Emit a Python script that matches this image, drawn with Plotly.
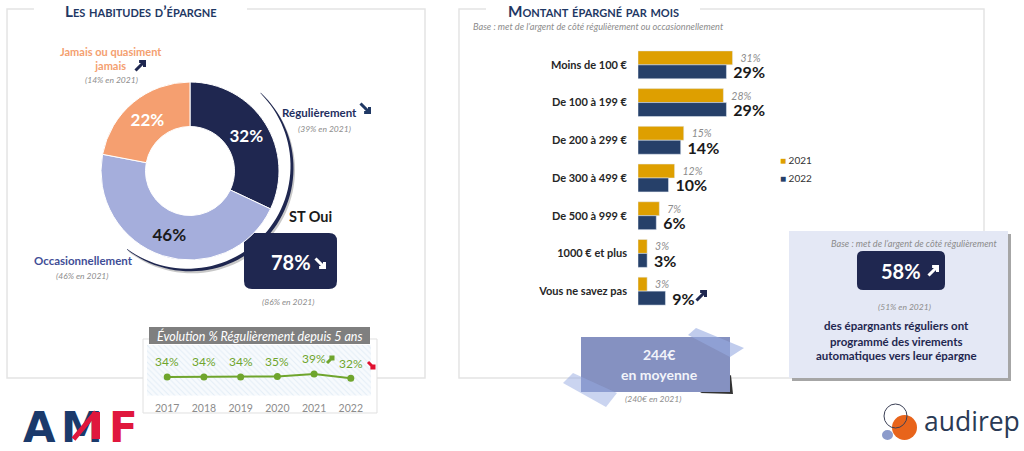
"""
Habitudes d'épargne : donut, barres du montant épargné et évolution sur 5 ans
"""

import numpy as np
import plotly.graph_objects as go

# Donut
habitudes = ['Régulièrement', 'Occasionnellement', 'Jamais ou quasiment jamais']
habitudes_vals = [32, 46, 22]

# Barres
montants = ['Moins de 100 €', 'De 100 à 199 €', 'De 200 à 299 €', 'De 300 à 499 €',
            'De 500 à 999 €', '1000 € et plus', 'Vous ne savez pas']
vals_2021 = [31, 28, 15, 12, 7, 3, 3]
vals_2022 = [29, 29, 14, 10, 6, 3, 9]

# Courbe
annees = [2017, 2018, 2019, 2020, 2021, 2022]
regulier = [34, 34, 34, 35, 39, 32]

W, H = 1024, 451
NAVY = '#1F2750'
BLEU = '#1F3864'
GRIS = '#8C8C8C'
VERT = '#6FA52D'
LATO = 'Lato'


def px(x):
    return x / W


def py(y):
    return 1 - y / H


def poly(points, close=True):
    path = 'M' + ' L'.join(f'{px(x):.5f},{py(y):.5f}' for x, y in points)
    return path + (' Z' if close else '')


def round_box(x0, y0, x1, y1, r):
    c = lambda x, y: f'{px(x):.5f},{py(y):.5f}'
    return (f'M{c(x0 + r, y0)} L{c(x1 - r, y0)} Q{c(x1, y0)} {c(x1, y0 + r)} '
            f'L{c(x1, y1 - r)} Q{c(x1, y1)} {c(x1 - r, y1)} '
            f'L{c(x0 + r, y1)} Q{c(x0, y1)} {c(x0, y1 - r)} '
            f'L{c(x0, y0 + r)} Q{c(x0, y0)} {c(x0 + r, y0)} Z')


shapes = []
annotations = []


def add_path(path, fill='rgba(0,0,0,0)', line=None, width=0):
    shapes.append(dict(type='path', path=path, xref='paper', yref='paper', layer='below',
                       fillcolor=fill, line=dict(color=line or 'rgba(0,0,0,0)', width=width)))


def add_circle(x0, y0, x1, y1, fill='rgba(0,0,0,0)', line=None, width=0):
    shapes.append(dict(type='circle', xref='paper', yref='paper', layer='below',
                       x0=px(x0), x1=px(x1), y0=py(y1), y1=py(y0), fillcolor=fill,
                       line=dict(color=line or 'rgba(0,0,0,0)', width=width)))


def note(x, y, text, size=11, color=BLEU, anchor='center', family=LATO):
    annotations.append(dict(x=px(x), y=py(y), xref='paper', yref='paper', text=text,
                            showarrow=False, xanchor=anchor, yanchor='middle', align='center',
                            borderpad=0, font=dict(size=size, color=color, family=family)))


def trait_logo(x, y, dx, dy, largeur, couleur):
    # trait par-dessus le texte du logo (les shapes passent sous les annotations)
    annotations.append(dict(x=px(x), y=py(y), xref='paper', yref='paper', text=' ', showarrow=True,
                            ax=dx, ay=dy, arrowhead=0, arrowwidth=largeur, arrowcolor=couleur,
                            standoff=0, startstandoff=0, font=dict(size=1)))


def fleche(x, y, s, color, bas=False, width=3):
    # petite flèche épaisse, vers le haut ou vers le bas à droite
    if bas:
        tige = [(x - s, y - s), (x + s, y + s)]
        tete = [(x + s, y - s * 0.2), (x + s, y + s), (x - s * 0.2, y + s)]
    else:
        tige = [(x - s, y + s), (x + s, y - s)]
        tete = [(x - s * 0.2, y - s), (x + s, y - s), (x + s, y + s * 0.2)]
    shapes.append(dict(type='path', path=poly(tige, False) + ' ' + poly(tete, False),
                       xref='paper', yref='paper', layer='above', fillcolor='rgba(0,0,0,0)',
                       line=dict(color=color, width=width)))


# Cadres
CADRE = '#E4E4E4'
add_path(poly([(34, 9), (7, 9), (7, 378), (425, 378), (425, 9), (247, 9)], False), line=CADRE, width=1.5)
add_path(poly([(486, 9), (459, 9), (459, 378), (800, 378)], False), line=CADRE, width=1.5)
add_path(poly([(700, 9), (984, 9), (984, 240)], False), line=CADRE, width=1.5)

# Arc autour du donut (ombre puis trait)
angles = np.radians(np.linspace(44, 217, 60))
epaisseur = 0.3 + 1.6 * np.sin(np.linspace(0, np.pi, 60))
for dx, dy, coul in [(1.5, 2, '#C8C8C8'), (0, 0, NAVY)]:
    ext = [(189 + dx + (103 + e) * np.sin(a), 167 + dy - (103 + e) * np.cos(a)) for a, e in zip(angles, epaisseur)]
    inte = [(189 + dx + (103 - e) * np.sin(a), 167 + dy - (103 - e) * np.cos(a)) for a, e in zip(angles, epaisseur)]
    add_path(poly(ext + inte[::-1]), fill=coul)

# Cartouche ST Oui
add_path(round_box(244, 233, 337, 289, 8), fill=NAVY)

# Encadré évolution
add_path(poly([(143, 339), (377, 339), (377, 413), (143, 413)]), fill='white', line='#E0E0E0', width=1)
add_path(poly([(149, 327), (370, 327), (370, 344), (149, 344)]), fill='#7F7F7F')

# Encadré virements
add_path(poly([(792, 234), (1011, 234), (1011, 381), (792, 381)]), fill='#A6A6A6')
add_path(poly([(789, 231), (1008, 231), (1008, 378), (789, 378)]), fill='#E4E8F5')
add_path(round_box(857, 251, 945, 290, 6), fill=NAVY)

# Post-it moyenne
add_path(poly([(731, 375), (733, 394), (700, 393)]), fill='#333333')
add_path(poly([(581, 337), (730, 337), (730, 392), (581, 392)]), fill='#8591C1')
add_path(poly([(696, 328), (744, 348), (730, 357), (688, 335)]), fill='rgba(150,170,225,0.6)')
add_path(poly([(573, 373), (617, 393), (606, 407), (563, 383)]), fill='rgba(150,170,225,0.5)')

# Logo audirep
add_circle(892, 415, 917, 440, fill='#E8641B')
add_circle(884, 404, 907, 428, line='#3A3F55', width=1)
add_circle(882, 430, 893, 440, fill='#8C9BCB')

# Textes panneau gauche
note(141, 11, '<b>Les habitudes d’épargne</b>', 15.3, BLEU)
annotations[-1]['font']['variant'] = 'small-caps'
note(111, 58, '<b>Jamais ou quasiment<br>jamais</b>', 11, '#F4A070')
note(111, 80, '<i>(14% en 2021)</i>', 8.5, GRIS)
fleche(140, 66, 4.5, NAVY)
note(281, 113, '<b>Régulièrement</b>', 11.5, '#1F2F5F', 'left')
note(324, 129, '<i>(39% en 2021)</i>', 8.5, GRIS)
fleche(365, 108, 4.5, BLEU, bas=True)
note(33, 260, '<b>Occasionnellement</b>', 11.5, '#3F4E96', 'left')
note(82, 276, '<i>(46% en 2021)</i>', 8.5, GRIS)
note(310, 216, '<b>ST Oui</b>', 14.5, '#1A1A1A')
note(291, 262, '<b>78%</b>', 20, 'white')
fleche(320, 263, 4.5, 'white', bas=True)
note(288, 302, '<i>(86% en 2021)</i>', 8.5, GRIS)
note(259, 336, '<i>Évolution % Régulièrement depuis 5 ans</i>', 12.5, 'white')
fleche(330, 360, 3, VERT)
fleche(371, 365, 3, '#E0102F', bas=True)

# Textes panneau droit
note(593, 11, '<b>Montant épargné par mois</b>', 15.3, BLEU)
annotations[-1]['font']['variant'] = 'small-caps'
note(472, 27, '<i>Base : met de l’argent de côté régulièrement ou occasionnellement</i>', 9.2, GRIS, 'left')
note(779, 160, '<span style="color:#DE9F00">■</span> 2021', 10, '#333333', 'left')
note(779, 178, '<span style="color:#264069">■</span> 2022', 10, '#333333', 'left')
fleche(701, 296, 4.5, NAVY)
note(659, 354, '<b>244€</b>', 14, '#F2F4FA')
note(659, 374, '<b>en moyenne</b>', 14, '#F2F4FA')
note(653, 399, '<i>(240€ en 2021)</i>', 8.5, GRIS)
note(998, 243, '<i>Base : met de l’argent de côté régulièrement</i>', 9.2, GRIS, 'right')
note(901, 271, '<b>58%</b>', 20, 'white')
fleche(933, 271, 4.5, 'white')
note(904, 307, '<i>(51% en 2021)</i>', 8.5, GRIS)
note(896, 325, '<b>des épargnants réguliers ont</b>', 11.5, NAVY)
note(896, 341, '<b>programmé des virements</b>', 11.5, NAVY)
note(896, 355, '<b>automatiques vers leur épargne</b>', 11.5, NAVY)

# Logos en texte
note(22, 427, '<b><span style="color:#1B3A6B">A</span></b>', 42, BLEU, 'left', 'DejaVu Sans')
note(60, 427, '<b><span style="color:#1B3A6B">M</span></b>', 42, BLEU, 'left', 'DejaVu Sans')
note(108, 427, '<b><span style="color:#E0173D">F</span></b>', 42, BLEU, 'left', 'DejaVu Sans')
trait_logo(96, 412, 0, 29, 8, '#E0173D')
trait_logo(96, 412, -24, 29, 5, '#E0173D')
note(923, 421, 'audirep', 26.5, '#2A3A55', 'left', 'Open Sans')

fig = go.Figure()

# Donut
fig.add_trace(go.Pie(
    labels=habitudes, values=habitudes_vals, hole=0.5, sort=False, direction='clockwise',
    rotation=0, domain=dict(x=[px(101), px(279)], y=[py(260), py(82)]),
    marker=dict(colors=[NAVY, '#A5AEDC', '#F59F70'], line=dict(color='white', width=1)),
    textinfo='text', text=[f'{v}%' for v in habitudes_vals], textposition='inside',
    insidetextorientation='horizontal',
    textfont=dict(size=17, family=LATO, weight='bold', color=['white', '#1A1A1A', 'white']),
    showlegend=False,
))

# Barres (espaces insécables pour décoller les étiquettes des barres)
fig.add_trace(go.Bar(
    y=montants, x=vals_2021, name='2021', orientation='h', xaxis='x', yaxis='y',
    marker_color='#DE9F00', text=[f'\u00a0\u00a0{v}%' for v in vals_2021], textposition='outside',
    constraintext='none', cliponaxis=False,
    textfont=dict(size=10.5, color=GRIS, family=LATO, style='italic'),
    showlegend=False,
))
fig.add_trace(go.Bar(
    y=montants, x=vals_2022, name='2022', orientation='h', xaxis='x', yaxis='y',
    marker_color='#264069', text=[f'\u00a0{v}%' for v in vals_2022], textposition='outside',
    constraintext='none', cliponaxis=False,
    textfont=dict(size=16, color='#1A1A1A', family=LATO, weight='bold'),
    showlegend=False,
))

# Fond hachuré de la courbe
fig.add_trace(go.Scatter(
    x=[2016.45, 2022.55, 2022.55, 2016.45, 2016.45], y=[2.8, 2.8, 87.3, 87.3, 2.8],
    xaxis='x2', yaxis='y2', mode='none', fill='toself', fillcolor='#F4F8FC',
    fillpattern=dict(shape='\\', fgcolor='#CFE0F0', bgcolor='#F7FAFD', size=4, solidity=0.25),
    hoverinfo='skip', showlegend=False,
))

# Courbe
fig.add_trace(go.Scatter(
    x=annees, y=regulier, xaxis='x2', yaxis='y2', mode='lines+markers',
    line=dict(color=VERT, width=2), marker=dict(color=VERT, size=7), showlegend=False,
))
for a, v in zip(annees, regulier):
    annotations.append(dict(x=a, y=v, xref='x2', yref='y2', text=f'{v}%', showarrow=False,
                            yshift=15, font=dict(size=12, color=VERT, family=LATO)))

fig.update_layout(
    width=W, height=H, margin=dict(l=0, r=0, t=0, b=0),
    paper_bgcolor='white', plot_bgcolor='rgba(0,0,0,0)',
    font=dict(family=LATO),
    barmode='group', bargap=0.26, bargroupgap=0,
    shapes=shapes, annotations=annotations,
    xaxis=dict(domain=[px(638), px(760)], range=[0, 40], visible=False, fixedrange=True),
    yaxis=dict(domain=[py(310), py(46)], autorange='reversed', showline=False, showgrid=False,
               zeroline=False, ticks='', ticklabelstandoff=10,
               tickfont=dict(size=11, color='#262626', family=LATO, weight='bold')),
    xaxis2=dict(domain=[px(147), px(371)], range=[2016.45, 2022.55], anchor='y2', tickvals=annees,
                showgrid=False, zeroline=False, showline=False, ticks='outside', ticklen=3,
                tickcolor='rgba(0,0,0,0)', tickfont=dict(size=10.5, color='#8C8C8C', family=LATO)),
    yaxis2=dict(domain=[py(395.7), py(345)], range=[2.8, 87.3], anchor='x2', visible=False),
)

# marge du body à zéro pour coller à la fenêtre
fig.write_html("out.html", config=dict(displayModeBar=False), post_script="document.body.style.margin='0';")
